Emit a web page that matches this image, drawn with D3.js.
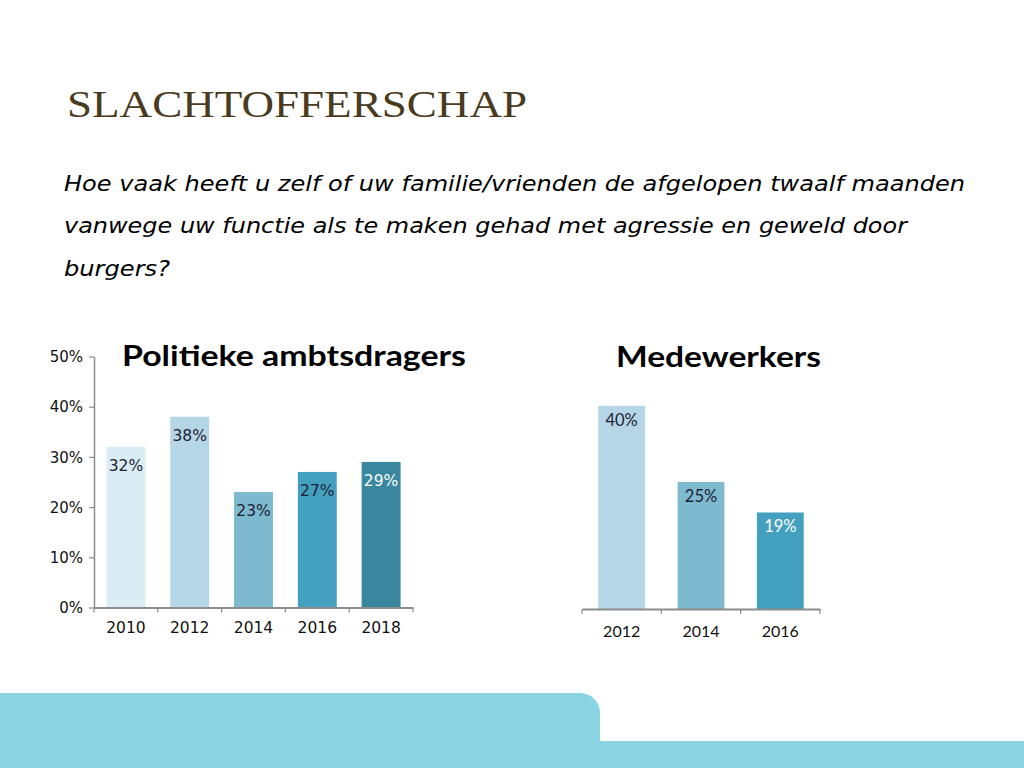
<!DOCTYPE html>
<html><head><meta charset="utf-8">
<script src="https://cdn.jsdelivr.net/npm/d3@7/dist/d3.min.js"></script>
<style>html,body{margin:0;padding:0;background:#fff;}svg{display:block;}</style>
</head><body>
<script>
const titleText = "SLACHTOFFERSCHAP";
const questionLines = [
  "Hoe vaak heeft u zelf of uw familie/vrienden de afgelopen twaalf maanden",
  "vanwege uw functie als te maken gehad met agressie en geweld door",
  "burgers?"
];
const leftTitle = "Politieke ambtsdragers";
const leftYears = ["2010","2012","2014","2016","2018"];
const leftValues = [32, 38, 23, 27, 29];
const leftColors = ["#daedf4","#b5d6e7","#7db9cf","#43a1bf","#38879f"];
const leftLabelColors = ["#1d1d35","#1d1d35","#1d1d35","#1d1d35","#ffffff"];
const yTicks = [0,10,20,30,40,50];

const rightTitle = "Medewerkers";
const rightYears = ["2012","2014","2016"];
const rightValues = [40, 25, 19];
const rightColors = ["#b5d6e7","#7db9cf","#43a1bf"];
const rightLabelColors = ["#1d1d35","#1d1d35","#ffffff"];

const svg = d3.select("body").append("svg").attr("width",1024).attr("height",768);

// bottom decoration
svg.append("path")
  .attr("d","M0,693 L580,693 A20,20 0 0 1 600,713 L600,768 L0,768 Z")
  .attr("fill","#89d3e2");
svg.append("rect").attr("x",600).attr("y",741).attr("width",424).attr("height",27).attr("fill","#89d3e2");

// title
svg.append("text").attr("x",67).attr("y",117)
  .attr("font-family","Liberation Serif, Times New Roman, serif")
  .attr("font-size",37).attr("fill","#4a3a1e")
  .attr("textLength",460).attr("lengthAdjust","spacingAndGlyphs")
  .text(titleText);

const qWidths = [901, 843, 106];
const qY = [191, 233, 276];
questionLines.forEach((l,i)=>{
  svg.append("text").attr("x",64).attr("y",qY[i])
    .attr("font-family","DejaVu Sans, Verdana, sans-serif")
    .attr("font-style","italic").attr("font-size",21).attr("fill","#000")
    .attr("textLength",qWidths[i]).attr("lengthAdjust","spacingAndGlyphs")
    .text(l);
});

const axisColor = "#8c8c8c";
const vFont = "DejaVu Sans, Verdana, sans-serif";
const cFont = "Lato, Open Sans, sans-serif";

// ---- Left chart ----
const lx = d3.scaleBand().domain(leftYears).range([94,413]).paddingInner(0.39).paddingOuter(0.195);
const ly = d3.scaleLinear().domain([0,50]).range([607.5,356.5]);

const gl = svg.append("g");
gl.selectAll("rect.bar").data(leftValues).join("rect")
  .attr("x",(d,i)=>lx(leftYears[i])).attr("width",lx.bandwidth())
  .attr("y",d=>ly(d)).attr("height",d=>ly(0)-ly(d))
  .attr("fill",(d,i)=>leftColors[i]);
gl.selectAll("text.lab").data(leftValues).join("text")
  .attr("x",(d,i)=>lx(leftYears[i])+lx.bandwidth()/2)
  .attr("y",d=>ly(d)+24)
  .attr("text-anchor","middle")
  .attr("font-family",vFont).attr("font-size",15.5)
  .attr("fill",(d,i)=>leftLabelColors[i])
  .text(d=>d+"%");

const yAxis = d3.axisLeft(ly).tickValues(yTicks).tickFormat(d=>d+"%").tickSize(5).tickSizeOuter(0);
const gy = svg.append("g").attr("transform","translate(94,0)").call(yAxis);
gy.select(".domain").attr("stroke",axisColor).attr("stroke-width",1.5);
gy.selectAll(".tick line").attr("stroke",axisColor).attr("stroke-width",1.2);
gy.selectAll(".tick text").attr("font-family",vFont)
  .attr("font-size",15).attr("fill","#111").attr("x",-11).attr("dy","0.35em");

function bandAxis(xs, y0, fontFamily, fontSize, labelDy){
  const g = svg.append("g").attr("transform",`translate(0,${y0})`);
  const ax = d3.axisBottom(xs).tickSize(0).tickSizeOuter(0);
  g.call(ax);
  g.select(".domain").attr("stroke",axisColor).attr("stroke-width",2);
  g.selectAll(".tick text").attr("font-family",fontFamily).attr("font-size",fontSize)
    .attr("fill","#111").attr("dy",labelDy).attr("y",0);
  const r = xs.range(), n = xs.domain().length, step = (r[1]-r[0])/n;
  g.selectAll("line.bt").data(d3.range(n+1)).join("line")
    .attr("x1",i=>r[0]+i*step).attr("x2",i=>r[0]+i*step)
    .attr("y1",0).attr("y2",5).attr("stroke",axisColor).attr("stroke-width",1.2);
  return g;
}
bandAxis(lx, 607.5, vFont, 15.5, "25");

svg.append("text").attr("x",122).attr("y",366)
  .attr("font-family",cFont).attr("font-weight",700)
  .attr("font-size",29).attr("fill","#000")
  .attr("textLength",344).attr("lengthAdjust","spacingAndGlyphs")
  .text(leftTitle);

// ---- Right chart ----
const rx = d3.scaleBand().domain(rightYears).range([582,820]).paddingInner(0.41).paddingOuter(0.205);
const ry = d3.scaleLinear().domain([0,50]).range([609,355]);
const gr = svg.append("g");
gr.selectAll("rect.bar").data(rightValues).join("rect")
  .attr("x",(d,i)=>rx(rightYears[i])).attr("width",rx.bandwidth())
  .attr("y",d=>ry(d)).attr("height",d=>ry(0)-ry(d))
  .attr("fill",(d,i)=>rightColors[i]);
gr.selectAll("text.lab").data(rightValues).join("text")
  .attr("x",(d,i)=>rx(rightYears[i])+rx.bandwidth()/2)
  .attr("y",d=>ry(d)+20)
  .attr("text-anchor","middle")
  .attr("font-family",cFont).attr("font-size",16.5)
  .attr("fill",(d,i)=>rightLabelColors[i])
  .text(d=>d+"%");
bandAxis(rx, 609, cFont, 16, "28");

svg.append("text").attr("x",616).attr("y",367)
  .attr("font-family",cFont).attr("font-weight",700)
  .attr("font-size",29).attr("fill","#000")
  .attr("textLength",205).attr("lengthAdjust","spacingAndGlyphs")
  .text(rightTitle);
</script>
</body></html>
